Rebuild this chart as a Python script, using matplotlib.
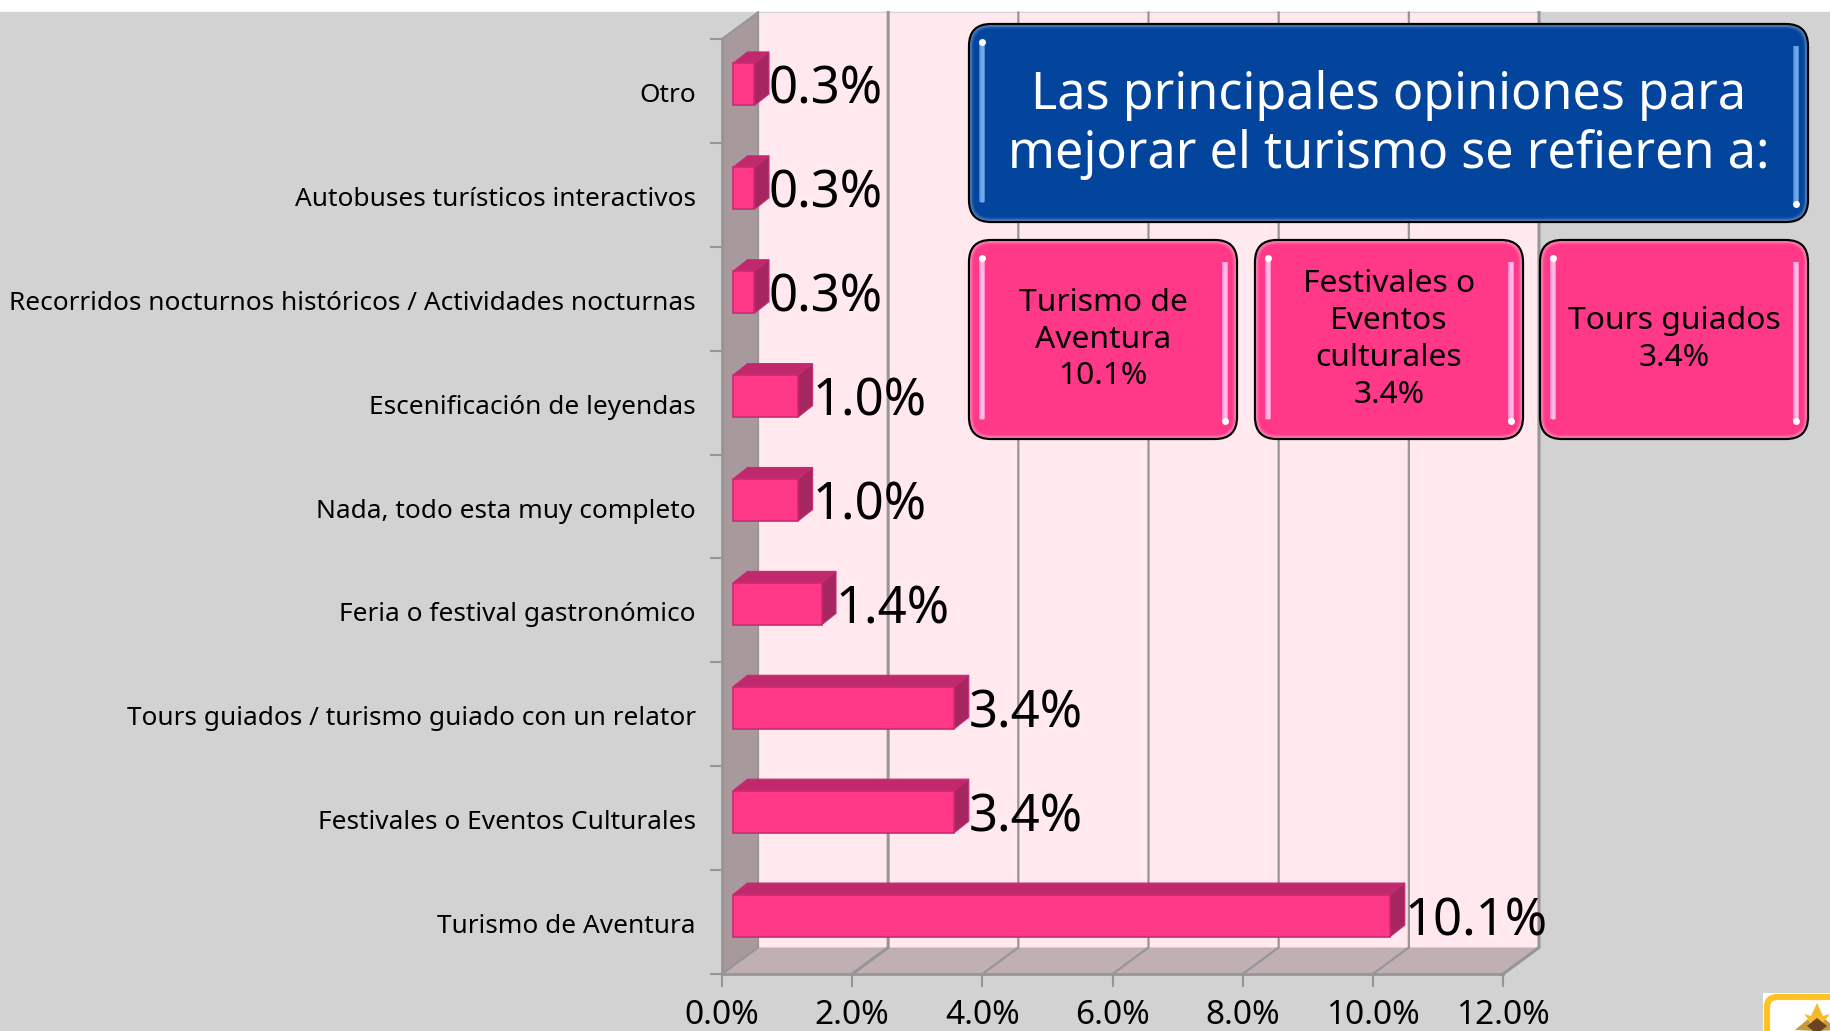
"""
Principales opiniones para mejorar el turismo - barras horizontales estilo 3D
"""

import matplotlib
matplotlib.use('Agg')
import matplotlib.pyplot as plt
from matplotlib.patches import FancyBboxPatch, Polygon, Rectangle
from matplotlib.transforms import ScaledTranslation

W, H = 1831, 1031
FONT = 'Noto Sans'

categories = [
    'Turismo de Aventura',
    'Festivales o Eventos Culturales',
    'Tours guiados / turismo guiado con un relator',
    'Feria o festival gastronómico',
    'Nada, todo esta muy completo',
    'Escenificación de leyendas',
    'Recorridos nocturnos históricos / Actividades nocturnas',
    'Autobuses turísticos interactivos',
    'Otro',
]
values = [10.1, 3.4, 3.4, 1.36, 1.0, 1.0, 0.33, 0.33, 0.33]
x_ticks = [0, 2, 4, 6, 8, 10, 12]

title_text = 'Las principales opiniones para\nmejorar el turismo se refieren a:'
card_texts = ['Turismo de\nAventura\n10.1%', 'Festivales o\nEventos\nculturales\n3.4%', 'Tours guiados\n3.4%']

BG = '#D2D2D2'
WALL = '#FFE8EE'
SIDE_WALL = '#A89A9C'
FLOOR = '#C0B0B3'
GRID = '#969696'
BAR = '#FF3888'
BAR_TOP = '#C0296B'
BAR_SIDE = '#A6275F'
BAR_EDGE = '#C92A72'
BLUE = '#03449C'

fig = plt.figure(figsize=(W / 100, H / 100), dpi=100, facecolor='white')
fig.add_artist(Rectangle((0, 0), 1, (H - 12) / H, transform=fig.transFigure, color=BG, zorder=-5))

ax = fig.add_axes([722 / W, (H - 974) / H, (1503 - 722) / W, (974 - 39) / H])
ax.set_xlim(0, 12)
ax.set_ylim(0, len(categories))
ax.patch.set_visible(False)

# pixel offsets of the 3d look, converted to data units
px_x = 12 / (1503 - 722)
px_y = len(categories) / (974 - 39)
depth_x = 36 * px_x
depth_y = 26.5 * px_y
bar_dx = 14.5 * px_x
bar_dy = 11.5 * px_y
bar_x0 = 11 * px_x
bar_y_off = 6.5 * px_y
bar_h = 42 * px_y

n = len(categories)
ax.add_patch(Polygon([(depth_x, depth_y), (12 + depth_x, depth_y), (12 + depth_x, n + depth_y), (depth_x, n + depth_y)],
                     fc=WALL, ec='none', clip_on=False, zorder=1))
ax.add_patch(Polygon([(0, 0), (depth_x, depth_y), (depth_x, n + depth_y), (0, n)],
                     fc=SIDE_WALL, ec='none', clip_on=False, zorder=1))
ax.add_patch(Polygon([(0, 0), (12, 0), (12 + depth_x, depth_y), (depth_x, depth_y)],
                     fc=FLOOR, ec='none', clip_on=False, zorder=1))

for t in x_ticks:
    lw = 2.2 if t in (2, 12) else 1.6
    ax.plot([t, t + depth_x, t + depth_x], [0, depth_y, n + depth_y], color=GRID, lw=lw,
            clip_on=False, zorder=2, solid_joinstyle='miter')
ax.plot([0, depth_x], [n, n + depth_y], color=GRID, lw=1.5, clip_on=False, zorder=2)

for i, v in enumerate(values):
    y0 = i + 0.5 - bar_h / 2 + bar_y_off
    y1 = y0 + bar_h
    x0 = bar_x0
    x1 = bar_x0 + v
    ax.add_patch(Polygon([(x0, y1), (x1, y1), (x1 + bar_dx, y1 + bar_dy), (x0 + bar_dx, y1 + bar_dy)],
                         fc=BAR_TOP, ec=BAR_EDGE, lw=0.8, clip_on=False, zorder=3))
    ax.add_patch(Polygon([(x1, y0), (x1 + bar_dx, y0 + bar_dy), (x1 + bar_dx, y1 + bar_dy), (x1, y1)],
                         fc=BAR_SIDE, ec=BAR_EDGE, lw=0.8, clip_on=False, zorder=3))
    ax.barh(y0 + bar_h / 2, v, height=bar_h, left=x0, color=BAR, edgecolor=BAR_EDGE, linewidth=1.2,
            clip_on=False, zorder=4)
    ax.text(x1 + bar_dx, y0 + bar_h / 2 - 6 * px_y, f'{v:.1f}%', fontsize=36.7, family=FONT, color='black',
            va='center', ha='left', zorder=5, clip_on=False)

for side in ('top', 'right'):
    ax.spines[side].set_visible(False)
for side in ('left', 'bottom'):
    ax.spines[side].set_color(GRID)
    ax.spines[side].set_linewidth(2)
    ax.spines[side].set_zorder(3)

ax.set_xticks(x_ticks)
ax.set_xticklabels([f'{t:.1f}%' for t in x_ticks], fontsize=24, family=FONT, color='black')
ax.set_yticks(range(n + 1))
ax.set_yticks([i + 0.5 for i in range(n)], minor=True)
ax.set_yticklabels([])
ax.set_yticklabels(categories, minor=True, fontsize=18.9, family=FONT, color='black')
ax.tick_params(axis='x', length=9, width=1.5, color=GRID, pad=9)
ax.tick_params(axis='y', which='major', length=9, width=1.5, color=GRID)
ax.tick_params(axis='y', which='minor', length=0, pad=18)
for lbl in ax.get_yticklabels(minor=True):
    lbl.set_transform(lbl.get_transform() + ScaledTranslation(-1 / 100, -1.5 / 100, fig.dpi_scale_trans))

# cards and logo are drawn in pixel coordinates
ov = fig.add_axes([0, 0, 1, 1], zorder=10)
ov.set_xlim(0, W)
ov.set_ylim(H, 0)
ov.axis('off')


def glossy_box(x0, y0, x1, y1, color, glow, hl, text, text_color, size, spacing, text_dy=0):
    r = 22
    ov.add_patch(FancyBboxPatch((x0, y0), x1 - x0, y1 - y0, boxstyle=f'round,pad=0,rounding_size={r}',
                                fc=glow, ec='black', lw=1.6, zorder=1))
    for inset, alpha in ((1.5, 0.45), (3, 0.6), (4.5, 1)):
        ov.add_patch(FancyBboxPatch((x0 + inset, y0 + inset), x1 - x0 - 2 * inset, y1 - y0 - 2 * inset,
                                    boxstyle=f'round,pad=0,rounding_size={r - inset}',
                                    fc=color, ec='none', alpha=alpha, zorder=2))
    for x, top, bottom, dot in ((x0 + 13, y0 + 18, y1 - 20, y0 + 18), (x1 - 12, y0 + 22, y1 - 18, y1 - 18)):
        ov.plot([x, x], [top, bottom], color=hl, lw=4, alpha=0.8, zorder=4, solid_capstyle='butt')
        ov.plot([x, x], [top, bottom], color=hl, lw=2.4, zorder=4, solid_capstyle='butt')
        ov.plot([x], [dot], 'o', color='white', ms=5, mew=0, zorder=4)
    ov.text((x0 + x1) / 2, (y0 + y1) / 2 + text_dy, text, color=text_color, fontsize=size, family=FONT,
            ha='center', va='center', linespacing=spacing, zorder=5)


glossy_box(969, 24, 1808, 222, BLUE, '#6C93C8', '#6FA8EC', title_text, 'white', 36.2, 1.19, text_dy=2)
for (x0, x1), txt in zip([(969, 1237), (1255, 1523), (1540, 1808)], card_texts):
    glossy_box(x0, 240, x1, 439, BAR, '#FF9AC4', '#FFB8EA', txt, 'black', 22.9, 1.3)

# logo (cut by the lower edge)
ov.add_patch(Rectangle((1763, 993), 70, 40, fc='white', ec='none', zorder=1))
ov.add_patch(FancyBboxPatch((1767, 997), 80, 60, boxstyle='round,pad=0,rounding_size=10',
                            fc='white', ec='#FFC125', lw=4.5, zorder=1))
ov.add_patch(Polygon([(1795, 1030), (1808, 1019), (1816, 1031)], fc='#C89A3A', ec='none', zorder=2))
ov.add_patch(Polygon([(1838, 1030), (1825, 1019), (1817, 1031)], fc='#C89A3A', ec='none', zorder=2))
ov.add_patch(Polygon([(1817, 1003), (1823, 1016), (1830, 1014), (1817, 1030), (1804, 1014), (1811, 1016)],
                     fc='#F5B82E', ec='none', zorder=3))
ov.add_patch(Polygon([(1817, 1018), (1827, 1026), (1817, 1034), (1807, 1026)], fc='#6B4423', ec='none', zorder=4))

fig.savefig('out.png', dpi=100, facecolor=fig.get_facecolor())
